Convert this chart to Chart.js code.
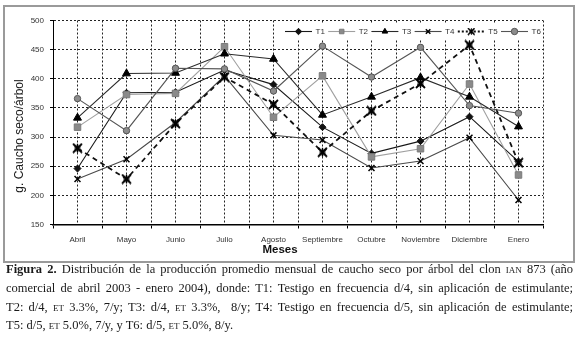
<!DOCTYPE html>
<html>
<head>
<meta charset="utf-8">
<script src="https://cdn.jsdelivr.net/npm/chart.js@4/dist/chart.umd.min.js"></script>
<style>
  html, body { margin: 0; padding: 0; background: #fff; }
  body { width: 580px; height: 352px; position: relative; overflow: hidden; }
  #frame { position: absolute; left: 3px; top: 5px; width: 568px; height: 254px; border: 2px solid #9a9a9a; }
  #c { position: absolute; left: 0; top: 0; }
  .cap { position: absolute; left: 6px; top: 260px; width: 567px; font-family: "Liberation Serif", "Times New Roman", serif; font-size: 12.5px; line-height: 18.8px; color: #1a1a1a; }
  .l { white-space: nowrap; }
  .j { text-align: justify; text-align-last: justify; }
  .sc { font-variant: small-caps; }
</style>
</head>
<body>
<div id="frame"></div>
<canvas id="c" width="580" height="265"></canvas>
<div class="cap">
  <div class="l j"><b>Figura 2.</b> Distribución de la producción promedio mensual de caucho seco por árbol del clon <span class="sc">ian</span> 873 (año</div>
  <div class="l j">comercial de abril 2003 - enero 2004), donde: T1: Testigo en frecuencia d/4, sin aplicación de estimulante;</div>
  <div class="l j">T2: d/4, <span class="sc">et</span> 3.3%, 7/y; T3: d/4, <span class="sc">et</span> 3.3%,&nbsp; 8/y; T4: Testigo en frecuencia d/5, sin aplicación de estimulante;</div>
  <div class="l">T5: d/5, <span class="sc">et</span> 5.0%, 7/y, y T6: d/5, <span class="sc">et</span> 5.0%, 8/y.</div>
</div>
<script>
const months = ["Abril", "Mayo", "Junio", "Julio", "Agosto", "Septiembre", "Octubre", "Noviembre", "Diciembre", "Enero"];
const seriesNames = ["T1", "T2", "T3", "T4", "T5", "T6"];
const T1 = [246, 376, 377, 415, 390, 317, 272, 293, 335, 258];
const T2 = [317, 373, 375, 455, 334, 405, 266, 280, 391, 235];
const T3 = [333, 409, 410, 443, 434, 338, 369, 402, 369, 318];
const T4 = [228, 262, 325, 405, 303, 295, 247, 259, 299, 192];
const T5 = [281, 228, 323, 403, 356, 274, 345, 392, 458, 256];
const T6 = [366, 311, 418, 417, 379, 456, 403, 454, 354, 341];
const yTicks = [150, 200, 250, 300, 350, 400, 450, 500];
const xTitle = "Meses";
const yTitle = "g. Caucho seco/árbol";

// custom marker for T5 (bold X over a filled square)
const starMark = document.createElement('canvas');
starMark.width = 11; starMark.height = 11;
(function(){
  const g = starMark.getContext('2d');
  g.fillStyle = '#4a4a4a';
  g.fillRect(2.5, 2.5, 6, 6);
  g.strokeStyle = '#000'; g.lineWidth = 1.8;
  g.beginPath(); g.moveTo(1, 1); g.lineTo(10, 10); g.moveTo(10, 1); g.lineTo(1, 10); g.stroke();
  g.lineWidth = 1.2;
  g.beginPath(); g.moveTo(5.5, 1); g.lineTo(5.5, 10); g.stroke();
})();

const styles = [
  { borderColor: '#1a1a1a', backgroundColor: '#111', pointStyle: 'rectRot', pointRadius: 3.5, borderWidth: 1.1, pointBorderColor: '#111' },
  { borderColor: '#a0a0a0', backgroundColor: '#8a8a8a', pointStyle: 'rect', pointRadius: 4.6, borderWidth: 1.1, pointBorderColor: '#7a7a7a' },
  { borderColor: '#2a2a2a', backgroundColor: '#000', pointStyle: 'triangle', pointRadius: 4.6, borderWidth: 1.1, pointBorderColor: '#000' },
  { borderColor: '#4a4a4a', backgroundColor: '#000', pointStyle: 'crossRot', pointRadius: 4.2, borderWidth: 1.1, pointBorderColor: '#000', pointBorderWidth: 1.5 },
  { borderColor: '#111', backgroundColor: '#333', pointStyle: starMark, pointRadius: 5, borderWidth: 1.8, pointBorderColor: '#000', borderDash: [5, 4] },
  { borderColor: '#555', backgroundColor: '#8c8c8c', pointStyle: 'circle', pointRadius: 3.2, borderWidth: 1.1, pointBorderColor: '#555' }
];
const allSeries = [T1, T2, T3, T4, T5, T6];

const datasets = allSeries.map((vals, i) => Object.assign({
  label: seriesNames[i],
  data: vals.map((v, k) => ({ x: k, y: v })),
  fill: false,
  tension: 0,
  pointBackgroundColor: styles[i].backgroundColor,
  pointBorderWidth: styles[i].pointBorderWidth || 1,
  order: 6 - i
}, styles[i]));

const legendBox = { x: 282, y: 23, w: 260, h: 16 };

const overlayPlugin = {
  id: 'overlay',
  beforeDatasetsDraw(chart) {
    const ctx = chart.ctx;
    ctx.save();
    ctx.fillStyle = '#fff';
    ctx.fillRect(legendBox.x, legendBox.y, legendBox.w, legendBox.h);
    ctx.restore();
  },
  afterDraw(chart) {
    const ctx = chart.ctx;
    ctx.save();
    const ly = 31.5;
    seriesNames.forEach((name, i) => {
      const st = styles[i];
      const x0 = 285 + i * 43.2;
      const x1 = x0 + 27;
      ctx.save();
      ctx.strokeStyle = st.borderColor;
      ctx.lineWidth = st.borderWidth;
      ctx.setLineDash(st.borderDash ? [2, 2] : []);
      ctx.beginPath(); ctx.moveTo(x0, ly); ctx.lineTo(x1, ly); ctx.stroke();
      ctx.restore();
      const opts = { pointStyle: st.pointStyle, radius: Math.min(st.pointRadius, 3.2), borderWidth: st.pointBorderWidth || 1, rotation: 0 };
      ctx.save();
      ctx.fillStyle = st.backgroundColor;
      ctx.strokeStyle = st.pointBorderColor;
      ctx.lineWidth = opts.borderWidth;
      if (st.pointStyle === starMark) {
        ctx.drawImage(starMark, (x0 + x1) / 2 - 4, ly - 4, 8, 8);
      } else if (Chart.helpers && Chart.helpers.drawPoint) {
        Chart.helpers.drawPoint(ctx, opts, (x0 + x1) / 2, ly);
      }
      ctx.restore();
      ctx.fillStyle = '#333';
      ctx.font = '8px "Liberation Sans", Arial, sans-serif';
      ctx.textAlign = 'left';
      ctx.textBaseline = 'middle';
      ctx.fillText(name, x1 + 3.5, ly + 0.5);
    });
    ctx.fillStyle = '#111';
    ctx.font = 'bold 11.5px "Liberation Sans", Arial, sans-serif';
    ctx.textAlign = 'center';
    ctx.textBaseline = 'middle';
    ctx.fillText(xTitle, 280, 250);
    ctx.translate(20, 136);
    ctx.rotate(-Math.PI / 2);
    ctx.font = '12px "Liberation Sans", Arial, sans-serif';
    ctx.fillStyle = '#1a1a1a';
    ctx.fillText(yTitle, 0, 0);
    ctx.restore();
  }
};

new Chart(document.getElementById('c'), {
  type: 'line',
  data: { datasets },
  plugins: [overlayPlugin],
  options: {
    responsive: false,
    animation: false,
    devicePixelRatio: 1,
    layout: { padding: { left: 0, top: 20.5, right: 37, bottom: 0 } },
    plugins: { legend: { display: false }, tooltip: { enabled: false } },
    scales: {
      x: {
        type: 'linear',
        min: -0.5, max: 9.5,
        afterBuildTicks(s) {
          const t = [];
          for (let k = -1; k <= 19; k++) t.push({ value: k / 2 });
          s.ticks = t;
        },
        afterFit(s) { s.height = 40.5; },
        border: { display: true, color: '#000', width: 1.6, dash: [2, 2] },
        grid: {
          color: '#222', lineWidth: 1,
          drawTicks: true, tickLength: 4, tickBorderDash: [],
          tickColor: (c) => (c.tick && Number.isInteger(c.tick.value)) ? 'rgba(0,0,0,0)' : '#000'
        },
        ticks: {
          autoSkip: false, maxRotation: 0, minRotation: 0, padding: 6,
          color: '#333', font: { family: '"Liberation Sans", Arial, sans-serif', size: 8 },
          callback: (v) => Number.isInteger(v) ? months[v] : ''
        }
      },
      y: {
        min: 150, max: 500,
        afterBuildTicks(s) { s.ticks = yTicks.map(v => ({ value: v })); },
        afterFit(s) { s.width = 53; },
        border: { display: true, color: '#000', width: 1, dash: [2, 2] },
        grid: { color: '#222', lineWidth: 1, drawTicks: true, tickLength: 3, tickBorderDash: [], tickColor: '#000' },
        ticks: { padding: 6, color: '#333', font: { family: '"Liberation Sans", Arial, sans-serif', size: 8 } }
      }
    }
  }
});
</script>
</body>
</html>
